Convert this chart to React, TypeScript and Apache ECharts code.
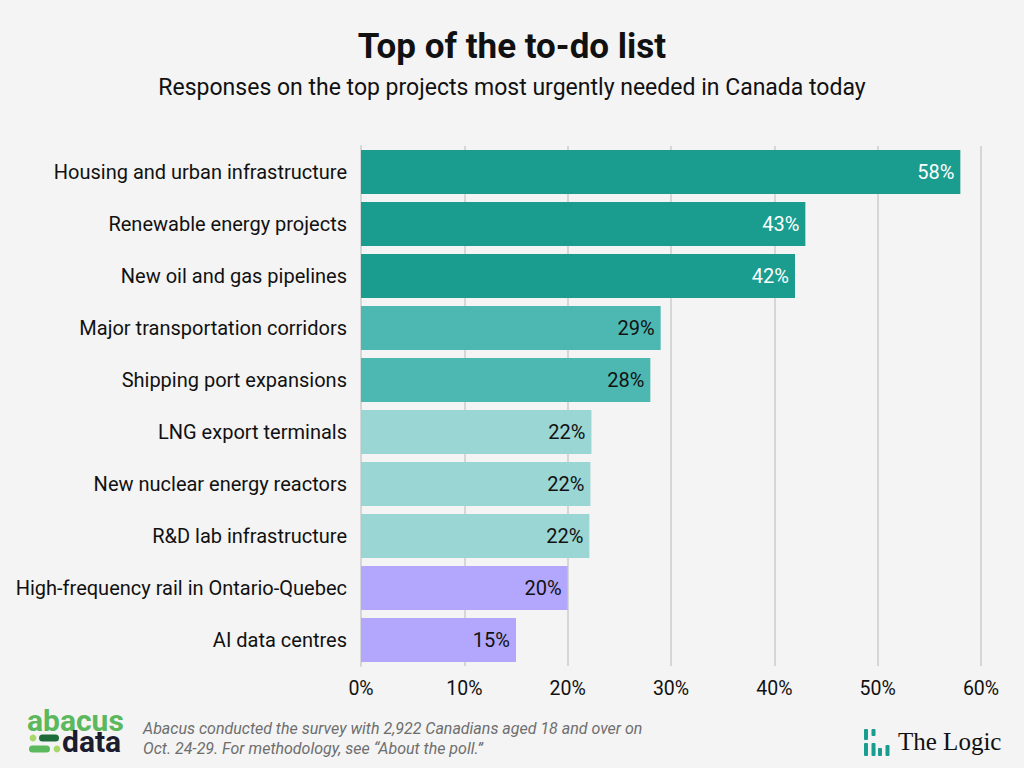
import React, { useEffect, useRef } from "react";
import * as echarts from "echarts";

const categories = [
  "Housing and urban infrastructure",
  "Renewable energy projects",
  "New oil and gas pipelines",
  "Major transportation corridors",
  "Shipping port expansions",
  "LNG export terminals",
  "New nuclear energy reactors",
  "R&D lab infrastructure",
  "High-frequency rail in Ontario-Quebec",
  "AI data centres",
];
const values = [58, 43, 42, 29, 28, 22.3, 22.2, 22.1, 20, 15];
const colorGroups = [0, 0, 0, 1, 1, 2, 2, 2, 3, 3];
const palette = ["#1a9c8f", "#4db8b2", "#9ad6d4", "#b3a6fd"];
const labelColors = ["#ffffff", "#111111", "#111111", "#111111"];
const xTicks = [0, 10, 20, 30, 40, 50, 60];

export default function App() {
  const ref = useRef<HTMLDivElement>(null);
  useEffect(() => {
    if (!ref.current) return;
    const chart = echarts.init(ref.current, null, { renderer: "svg" });
    const font = "Roboto, 'Noto Sans', sans-serif";
    chart.setOption({
      animation: false,
      backgroundColor: "#f4f4f4",
      textStyle: { fontFamily: font },
      grid: { left: 361, right: 43, top: 146, bottom: 102, containLabel: false },
      xAxis: {
        type: "value",
        min: 0,
        max: 60,
        interval: 10,
        axisLabel: {
          formatter: (v: number) => (xTicks.includes(v) ? v + "%" : ""),
          fontSize: 19.5,
          color: "#111",
          margin: 12,
          fontFamily: font,
        },
        splitLine: { show: true, lineStyle: { color: "#d6d6d6", width: 2 } },
        axisLine: { show: false },
        axisTick: { show: false },
      },
      yAxis: {
        type: "category",
        data: categories,
        inverse: true,
        axisLabel: { fontSize: 20, color: "#111", margin: 14, fontFamily: font },
        axisLine: { show: true, lineStyle: { color: "#d6d6d6", width: 2 } },
        axisTick: { show: false },
      },
      series: [
        {
          type: "bar",
          barCategoryGap: "15%",
          data: values.map((v, i) => ({
            value: v,
            itemStyle: { color: palette[colorGroups[i]] },
            label: { color: labelColors[colorGroups[i]] },
          })),
          label: {
            show: true,
            position: "insideRight",
            distance: 6,
            fontSize: 20,
            fontFamily: font,
            formatter: (p: any) => Math.round(p.value) + "%",
          },
        },
      ],
      graphic: [
        {
          type: "text",
          x: 512,
          y: 46,
          style: {
            text: "Top of the to-do list",
            font: "bold 35px Roboto, sans-serif",
            fill: "#111",
            align: "center",
            verticalAlign: "middle",
          },
        },
        {
          type: "text",
          x: 512,
          y: 87,
          style: {
            text: "Responses on the top projects most urgently needed in Canada today",
            font: "23px Roboto, sans-serif",
            fill: "#111",
            align: "center",
            verticalAlign: "middle",
          },
        },
        // abacus data logo
        {
          type: "text",
          x: 27,
          y: 720,
          style: { text: "abacus", font: "bold 30px Roboto, sans-serif", fill: "#5cb85c", verticalAlign: "middle", lineHeight: 20 },
        },
        {
          type: "text",
          x: 62,
          y: 741,
          style: { text: "data", font: "bold 30px Roboto, sans-serif", fill: "#1c1c2e", verticalAlign: "middle", lineHeight: 20 },
        },
        { type: "circle", shape: { cx: 33, cy: 738, r: 3.4 }, style: { fill: "#a6d96a" } },
        { type: "rect", shape: { x: 39, y: 734.5, width: 20, height: 7, r: 3.5 }, style: { fill: "#1e6b3a" } },
        { type: "rect", shape: { x: 29, y: 745.5, width: 21, height: 7, r: 3.5 }, style: { fill: "#5cb85c" } },
        { type: "circle", shape: { cx: 57, cy: 749, r: 3.4 }, style: { fill: "#a6d96a" } },
        {
          type: "text",
          x: 143,
          y: 718,
          style: {
            text: "Abacus conducted the survey with 2,922 Canadians aged 18 and over on\nOct. 24-29. For methodology, see \u201cAbout the poll.\u201d",
            font: "italic 16px Roboto, sans-serif",
            fill: "#6e6e6e",
            lineHeight: 20,
          },
        },
        // The Logic logo
        { type: "rect", shape: { x: 864, y: 729, width: 4, height: 11, r: 1 }, style: { fill: "#1a9c8f" } },
        { type: "rect", shape: { x: 864, y: 743, width: 4, height: 13, r: 1 }, style: { fill: "#1a9c8f" } },
        { type: "rect", shape: { x: 871.5, y: 729, width: 4, height: 7, r: 1 }, style: { fill: "#1a9c8f" } },
        { type: "rect", shape: { x: 871.5, y: 743, width: 4, height: 13, r: 1 }, style: { fill: "#1a9c8f" } },
        { type: "rect", shape: { x: 878, y: 748, width: 4, height: 8, r: 1 }, style: { fill: "#1a9c8f" } },
        { type: "rect", shape: { x: 885.5, y: 745, width: 4, height: 11, r: 1 }, style: { fill: "#1a9c8f" } },
        {
          type: "text",
          x: 898,
          y: 741,
          style: {
            text: "The Logic",
            font: "25px 'Liberation Serif', 'DejaVu Serif', serif",
            fill: "#111",
            verticalAlign: "middle",
          },
        },
      ],
    });
    return () => chart.dispose();
  }, []);
  return <div ref={ref} style={{ width: 1024, height: 768, position: "absolute", left: 0, top: 0 }} />;
}
